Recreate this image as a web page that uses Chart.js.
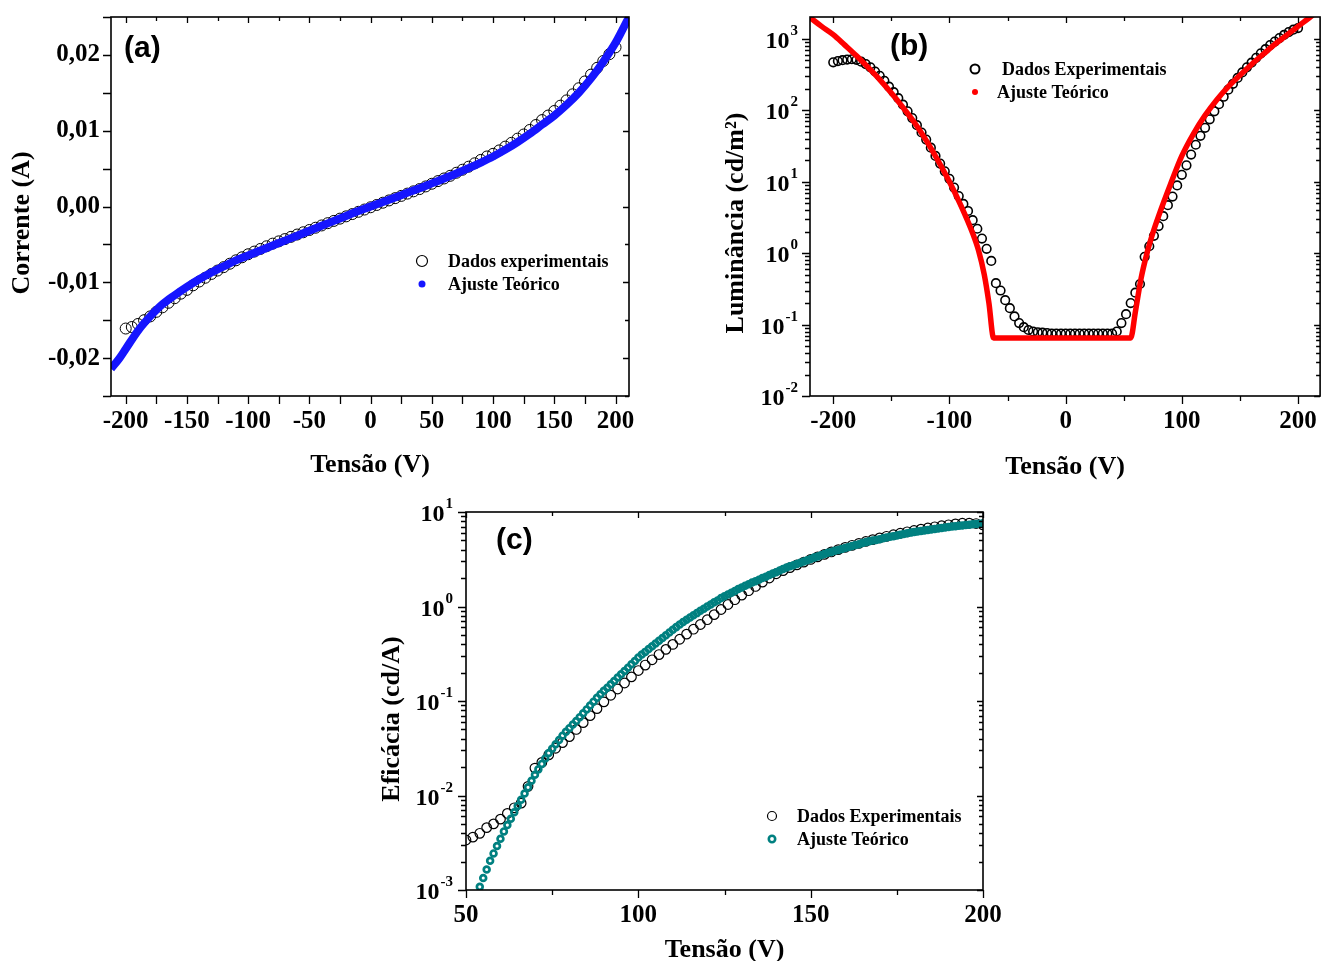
<!DOCTYPE html>
<html>
<head>
<meta charset="utf-8">
<script src="https://cdn.jsdelivr.net/npm/chart.js@4.4.1/dist/chart.umd.min.js"></script>
<style>
  html, body { margin: 0; padding: 0; background: #fff; overflow: hidden; }
  canvas { position: absolute; }
  #ca { left: 0; top: 0; }
  #cb { left: 700px; top: 0; }
  #cc { left: 370px; top: 490px; }
</style>
</head>
<body>
<canvas id="ca" width="660" height="490"></canvas>
<canvas id="cb" width="626" height="490"></canvas>
<canvas id="cc" width="650" height="471"></canvas>
<script>
// ---- data ----
const seriesA = ['Dados experimentais', 'Ajuste Teórico'];
const seriesB = ['Dados Experimentais', 'Ajuste Teórico'];

// (a) current vs voltage
const aExpX = [-200,-195,-190,-185,-180,-175,-170,-165,-160,-155,-150,-145,-140,-135,-130,-125,-120,-115,-110,-105,
  -100,-95,-90,-85,-80,-75,-70,-65,-60,-55,-50,-45,-40,-35,-30,-25,-20,-15,-10,-5,
  0,5,10,15,20,25,30,35,40,45,50,55,60,65,70,75,80,85,90,95,
  100,105,110,115,120,125,130,135,140,145,150,155,160,165,170,175,180,185,190,195,200];
const aExpY = [-0.0161,-0.0159,-0.0155,-0.0150,-0.0145,-0.0139,-0.0133,-0.0127,-0.0121,-0.0115,
  -0.0110,-0.0104,-0.0099,-0.0094,-0.0089,-0.00845,-0.0080,-0.00755,-0.0071,-0.0067,
  -0.0063,-0.00595,-0.0056,-0.00525,-0.0049,-0.0046,-0.0043,-0.0040,-0.0037,-0.0034,
  -0.0031,-0.0028,-0.0025,-0.0022,-0.0019,-0.0016,-0.0013,-0.0010,-0.0007,-0.0004,
  -0.0001,0.0002,0.0005,0.0008,0.0011,0.0014,0.0017,0.0020,0.0023,0.00265,
  0.0030,0.00335,0.0037,0.00405,0.00445,0.00485,0.00525,0.0057,0.00615,0.0066,
  0.00695,0.0074,0.0079,0.0084,0.00895,0.0095,0.0101,0.01075,0.0114,0.0120,
  0.0126,0.0133,0.0140,0.0148,0.0156,0.0165,0.0174,0.0183,0.0192,0.0201,0.0210];
const aFitX = [-212,-205,-200,-190,-180,-170,-160,-150,-140,-130,-120,-110,-100,-90,-80,-70,-60,-50,-40,-30,-20,-10,
  0,10,20,30,40,50,60,70,80,90,100,110,120,130,140,150,160,170,180,190,200,205,211];
const aFitY = [-0.0214,-0.0200,-0.0188,-0.0164,-0.0145,-0.0129,-0.0117,-0.0106,-0.0096,-0.0087,-0.0079,-0.0071,
  -0.00645,-0.0058,-0.00515,-0.0045,-0.00385,-0.0032,-0.00255,-0.0019,-0.00125,-0.0006,
  0,0.0006,0.0012,0.0018,0.0024,0.00305,0.0037,0.00435,0.00505,0.0058,0.0066,0.0075,0.0085,0.0096,
  0.0108,0.0120,0.0134,0.0150,0.0169,0.0191,0.0216,0.0231,0.0250];
const aXTicks = [-200,-150,-100,-50,0,50,100,150,200];
const aYTicks = [-0.02,-0.01,0,0.01,0.02];

// (b) luminance vs voltage
const bExpX = [-200,-196,-192,-188,-184,-180,-176,-172,-168,-164,-160,-156,-152,-148,-144,-140,-136,-132,-128,-124,
  -120,-116,-112,-108,-104,-100,-96,-92,-88,-84,-80,-76,-72,-68,-64,-60,-56,-52,-48,-44,
  -40,-36,-32,-28,-24,-20,-16,-12,-8,-4,0,4,8,12,16,20,24,28,32,36,
  40,44,48,52,56,60,64,68,72,76,80,84,88,92,96,100,104,108,112,116,
  120,124,128,132,136,140,144,148,152,156,160,164,168,172,176,180,184,188,192,196,200];
const bExpY = [470,490,505,515,520,510,480,445,400,350,
  305,260,215,180,148,120,97,78,62,49,
  39,30,23,18,14,11,8.3,6.3,4.9,3.9,
  2.9,2.2,1.6,1.15,0.78,0.38,0.3,0.22,0.17,0.13,
  0.105,0.092,0.084,0.08,0.078,0.077,0.076,0.075,0.075,0.075,
  0.075,0.075,0.075,0.075,0.075,0.075,0.075,0.075,0.075,0.075,
  0.075,0.08,0.105,0.14,0.2,0.28,0.37,0.89,1.25,1.75,
  2.4,3.3,4.7,6.2,8.9,12.5,17,24,33,44,
  57,75,97,122,155,195,235,285,340,400,
  465,545,630,720,820,920,1030,1140,1250,1350,1420];
const bFitX = [-220,-210,-200,-190,-180,-170,-160,-150,-140,-130,-120,-110,-100,-90,-80,-75,-70,-66,-62,
  0,56,60,65,70,75,80,90,100,110,120,130,140,150,160,170,180,190,200,210,220];
const bFitY = [2000,1500,1150,820,580,400,270,175,110,67,38,20,10,4.6,1.9,1.1,0.5,0.2,0.065,
  0.065,0.065,0.15,0.45,1.0,1.9,3.3,9,23,47,85,140,215,310,440,610,840,1120,1500,2000,2700];
const bXTicks = [-200,-100,0,100,200];
const bYTicks = [0.01,0.1,1,10,100,1000];

// (c) efficacy vs voltage
const cExpX = [50,52,54,56,58,60,62,64,66,68,70,72,74,76,78,80,82,84,86,88,
  90,92,94,96,98,100,102,104,106,108,110,112,114,116,118,120,122,124,126,128,
  130,132,134,136,138,140,142,144,146,148,150,152,154,156,158,160,162,164,166,168,
  170,172,174,176,178,180,182,184,186,188,190,192,194,196,198,200];
const cExpY = [0.00338,0.00363,0.00398,0.00457,0.00501,0.00562,0.00646,0.00741,0.0083,0.0125,
  0.0195,0.0224,0.0269,0.0316,0.0363,0.042,0.05,0.059,0.07,0.083,
  0.098,0.115,0.134,0.155,0.18,0.21,0.24,0.273,0.31,0.352,
  0.397,0.45,0.51,0.575,0.645,0.725,0.82,0.93,1.05,1.18,
  1.32,1.47,1.63,1.81,2.0,2.22,2.4,2.58,2.76,2.95,
  3.15,3.35,3.56,3.78,4.0,4.22,4.44,4.66,4.88,5.1,
  5.32,5.53,5.75,5.96,6.17,6.38,6.58,6.78,6.97,7.15,
  7.32,7.48,7.6,7.62,7.55,7.3];
const cFitX = [54,55,56,57,58,59,60,61,62,63,64,65,66,67,68,69,70,71,72,73,
  74,75,76,77,78,79,80,81,82,83,84,85,86,87,88,89,90,91,92,93,
  94,95,96,97,98,99,100,101,102,103,104,105,106,107,108,109,110,111,112,113,
  114,115,116,117,118,119,120,121,122,123,124,125,126,127,128,129,130,131,132,133,
  134,135,136,137,138,139,140,141,142,143,144,145,146,147,148,149,150,151,152,153,
  154,155,156,157,158,159,160,161,162,163,164,165,166,167,168,169,170,171,172,173,
  174,175,176,177,178,179,180,181,182,183,184,185,186,187,188,189,190,191,192,193,
  194,195,196,197,198,199,200];
const cFitY = [0.00108,0.00134,0.00165,0.00204,0.00244,0.00292,0.00348,0.00417,0.00486,0.00569,
  0.00664,0.00776,0.00904,0.0105,0.0122,0.0143,0.0166,0.0189,0.0216,0.0247,
  0.0282,0.0313,0.0348,0.0386,0.043,0.0473,0.0516,0.0564,0.0615,0.0675,
  0.0741,0.0815,0.0895,0.0984,0.108,0.118,0.128,0.138,0.15,0.163,
  0.177,0.192,0.208,0.225,0.245,0.265,0.288,0.31,0.331,0.354,
  0.379,0.406,0.434,0.463,0.495,0.53,0.566,0.605,0.646,0.685,
  0.724,0.764,0.807,0.851,0.9,0.946,0.998,1.05,1.11,1.16,
  1.23,1.28,1.34,1.4,1.46,1.53,1.59,1.66,1.72,1.79,
  1.85,1.92,2.0,2.07,2.15,2.23,2.31,2.4,2.49,2.58,
  2.66,2.74,2.82,2.91,3.0,3.09,3.18,3.29,3.39,3.49,
  3.6,3.7,3.78,3.88,3.97,4.06,4.16,4.27,4.37,4.47,
  4.57,4.69,4.8,4.9,4.99,5.07,5.16,5.26,5.36,5.46,
  5.55,5.65,5.75,5.86,5.97,6.05,6.14,6.21,6.28,6.37,
  6.44,6.53,6.61,6.68,6.78,6.86,6.95,7.03,7.08,7.15,
  7.21,7.28,7.33,7.4,7.46,7.52,7.59];
const cXTicks = [50,100,150,200];
const cYTicks = [0.001,0.01,0.1,1,10];

// ---- helpers ----
const SERIF = '"Liberation Serif", "Times New Roman", serif';
const tickFont = { family: SERIF, weight: 'bold', size: 25 };
const titleFont = { family: SERIF, weight: 'bold', size: 26 };
const pts = (xs, ys) => xs.map((x, i) => ({ x: x, y: ys[i] }));
const every = (from, to, step) => { const r = []; for (let v = from; v <= to + 1e-9; v += step) r.push(+v.toFixed(4)); return r; };
const logMinors = (lo, hi) => { const r = []; for (let d = lo; d < hi; d *= 10) for (let k = 2; k < 10; k++) r.push(d * k); return r; };

// box, mirrored ticks, log labels, y title, legend and panel letter for one panel
function decor(o) {
  return {
    id: 'decor',
    afterDraw(chart) {
      const { ctx, chartArea: a, scales: { x, y } } = chart;
      ctx.save();
      // ticks: outward on left/bottom, inward on right/top
      ctx.strokeStyle = '#000';
      ctx.lineWidth = 1.3;
      ctx.beginPath();
      const inX = v => v >= x.min && v <= x.max, inY = v => v >= y.min && v <= y.max;
      const xt = (vals, out, inn) => vals.filter(inX).forEach(v => {
        const p = Math.round(x.getPixelForValue(v)) + 0.5;
        ctx.moveTo(p, a.bottom); ctx.lineTo(p, a.bottom + out);
        ctx.moveTo(p, a.top); ctx.lineTo(p, a.top + inn);
      });
      const yt = (vals, out, inn) => vals.filter(inY).forEach(v => {
        const p = Math.round(y.getPixelForValue(v)) + 0.5;
        ctx.moveTo(a.left, p); ctx.lineTo(a.left - out, p);
        ctx.moveTo(a.right, p); ctx.lineTo(a.right - inn, p);
      });
      xt(o.xMajor, 8, 6); xt(o.xMinor, o.minorOut, 4);
      yt(o.yMajor, 8, 6); yt(o.yMinor, o.minorOut, 4);
      ctx.stroke();
      ctx.lineWidth = 1.6;
      ctx.strokeRect(a.left, a.top, a.right - a.left, a.bottom - a.top);

      ctx.fillStyle = '#000';
      // 10^n labels
      if (o.logValues) {
        ctx.textBaseline = 'alphabetic';
        o.logValues.forEach(v => {
          const py = y.getPixelForValue(v);
          const e = String(Math.round(Math.log10(v)));
          ctx.font = 'bold 15px ' + SERIF;
          const ew = ctx.measureText(e).width;
          const right = a.left - o.logGap;
          ctx.textAlign = 'left';
          ctx.fillText(e, right - ew, py - 4);
          ctx.font = 'bold 24px ' + SERIF;
          ctx.textAlign = 'right';
          ctx.fillText('10', right - ew - 1, py + 9);
        });
      }

      // rotated y title
      ctx.save();
      ctx.translate(o.yTitle[1], o.yTitle[2]);
      ctx.rotate(-Math.PI / 2);
      ctx.font = 'bold 26px ' + SERIF;
      ctx.textAlign = 'center';
      ctx.textBaseline = 'middle';
      ctx.fillText(o.yTitle[0], 0, 0);
      ctx.restore();

      // legend
      chart.data.datasets.forEach((ds, i) => {
        const m = o.markers[i];
        const yy = o.legY + i * 23;
        ctx.beginPath();
        ctx.arc(o.legX, yy, m.r, 0, Math.PI * 2);
        if (m.solid) { ctx.fillStyle = m.color; ctx.fill(); }
        else { ctx.lineWidth = m.lw; ctx.strokeStyle = m.color; ctx.stroke(); }
        ctx.fillStyle = '#000';
        ctx.font = 'bold 18px ' + SERIF;
        ctx.textAlign = 'left';
        ctx.textBaseline = 'middle';
        ctx.fillText(ds.label, o.textX[i], yy + 1);
      });

      // panel letter
      ctx.font = 'bold 30px "Liberation Sans", Arial, sans-serif';
      ctx.textAlign = 'left';
      ctx.textBaseline = 'middle';
      ctx.fillText(o.panel[0], o.panel[1], o.panel[2]);
      ctx.restore();
    }
  };
}

const noPad = s => { s.paddingTop = 0; s.paddingBottom = 0; s.paddingLeft = 0; s.paddingRight = 0; };

const xAxis = (min, max, ticks, h, titlePad) => ({
  type: 'linear', min: min, max: max,
  afterBuildTicks: s => { s.ticks = ticks.map(v => ({ value: v })); },
  afterFit: s => { s.height = h; noPad(s); },
  grid: { display: false, drawTicks: false }, border: { display: false },
  ticks: { font: tickFont, color: '#000', padding: 11, maxRotation: 0, callback: v => String(v) },
  title: { display: true, text: 'Tensão (V)', color: '#000', font: titleFont, padding: { top: 0, bottom: titlePad } }
});

const logY = (min, max, w) => ({
  type: 'logarithmic', min: min, max: max,
  afterFit: s => { s.width = w; noPad(s); },
  grid: { display: false, drawTicks: false }, border: { display: false },
  ticks: { display: false }
});

const baseOptions = { responsive: false, animation: false, events: [], plugins: { legend: { display: false }, tooltip: { enabled: false } } };

// ---- (a) ----
new Chart(document.getElementById('ca'), {
  type: 'scatter',
  data: {
    datasets: [
      { label: seriesA[0], data: pts(aExpX, aExpY), pointRadius: 5.5, pointBorderWidth: 1, pointBorderColor: '#000',
        pointBackgroundColor: 'rgba(0,0,0,0)', showLine: false, order: 1, clip: 0 },
      { label: seriesA[1], data: pts(aFitX, aFitY), showLine: true, borderColor: '#1515ff', borderWidth: 8,
        pointRadius: 0, cubicInterpolationMode: 'monotone', order: 0, clip: 0 }
    ]
  },
  options: {
    ...baseOptions,
    layout: { padding: { left: 0, top: 17, right: 31, bottom: 0 } },
    scales: {
      x: xAxis(-212, 211, aXTicks, 94, 9),
      y: {
        type: 'linear', min: -0.025, max: 0.025,
        afterBuildTicks: s => { s.ticks = aYTicks.map(v => ({ value: v })); },
        afterFit: s => { s.width = 111; noPad(s); },
        grid: { display: false, drawTicks: false }, border: { display: false },
        ticks: { font: tickFont, color: '#000', padding: 11, callback: v => v.toFixed(2).replace('.', ',') }
      }
    }
  },
  plugins: [decor({
    xMajor: aXTicks, xMinor: every(-175, 175, 50), yMajor: aYTicks, yMinor: [-0.025, -0.015, -0.005, 0.005, 0.015, 0.025], minorOut: 8,
    yTitle: ['Corrente (A)', 22, 223],
    legX: 422, legY: 261, textX: [448, 448], panel: ['(a)', 124, 49],
    markers: [{ r: 5.5, lw: 1.2, color: '#000' }, { r: 3.5, solid: true, color: '#1515ff' }]
  })]
});

// ---- (b) ----
new Chart(document.getElementById('cb'), {
  type: 'scatter',
  data: {
    datasets: [
      { label: seriesB[0], data: pts(bExpX, bExpY), pointRadius: 4.3, pointBorderWidth: 1.6, pointBorderColor: '#000',
        pointBackgroundColor: 'rgba(0,0,0,0)', showLine: false, order: 1, clip: 0 },
      { label: seriesB[1], data: pts(bFitX, bFitY), showLine: true, borderColor: '#ff0000', borderWidth: 5.5,
        pointRadius: 0, cubicInterpolationMode: 'monotone', order: 0, clip: 0 }
    ]
  },
  options: {
    ...baseOptions,
    layout: { padding: { left: 0, top: 17, right: 1, bottom: 0 } },
    scales: {
      x: xAxis(-220, 219, bXTicks, 94, 7),
      y: logY(0.01, 2030, 110)
    }
  },
  plugins: [decor({
    xMajor: bXTicks, xMinor: [-150, -50, 50, 150], yMajor: bYTicks, yMinor: logMinors(0.01, 1000), minorOut: 5,
    logValues: bYTicks, logGap: 12,
    yTitle: ['Luminância (cd/m²)', 36, 223],
    legX: 275, legY: 69, textX: [302, 297], panel: ['(b)', 190, 47],
    markers: [{ r: 4.5, lw: 2, color: '#000' }, { r: 3, solid: true, color: '#ff0000' }]
  })]
});

// ---- (c) ----
new Chart(document.getElementById('cc'), {
  type: 'scatter',
  data: {
    datasets: [
      { label: seriesB[0], data: pts(cExpX, cExpY), pointRadius: 4.8, pointBorderWidth: 1.2, pointBorderColor: '#000',
        pointBackgroundColor: 'rgba(0,0,0,0)', showLine: false, order: 1, clip: 0 },
      { label: seriesB[1], data: pts(cFitX, cFitY), pointRadius: 2.9, pointBorderWidth: 2.7, pointBorderColor: '#008080',
        pointBackgroundColor: 'rgba(0,0,0,0)', showLine: false, order: 0, clip: 0 }
    ]
  },
  options: {
    ...baseOptions,
    layout: { padding: { left: 0, top: 22, right: 37, bottom: 0 } },
    scales: {
      x: { ...xAxis(50, 200, cXTicks, 71, 0), title: { display: true, text: 'Tensão (V)', color: '#000',
        font: { ...titleFont, lineHeight: 0.85 }, padding: { top: 0, bottom: 0 } } },
      y: logY(0.001, 10, 96)
    }
  },
  plugins: [decor({
    xMajor: cXTicks, xMinor: [75, 125, 175], yMajor: cYTicks, yMinor: logMinors(0.001, 10), minorOut: 5,
    logValues: cYTicks, logGap: 13,
    yTitle: ['Eficácia (cd/A)', 22, 229],
    legX: 402, legY: 326, textX: [427, 427], panel: ['(c)', 126, 51],
    markers: [{ r: 4.5, lw: 1.2, color: '#000' }, { r: 3.2, lw: 2.6, color: '#008080' }]
  })]
});
</script>
</body>
</html>
